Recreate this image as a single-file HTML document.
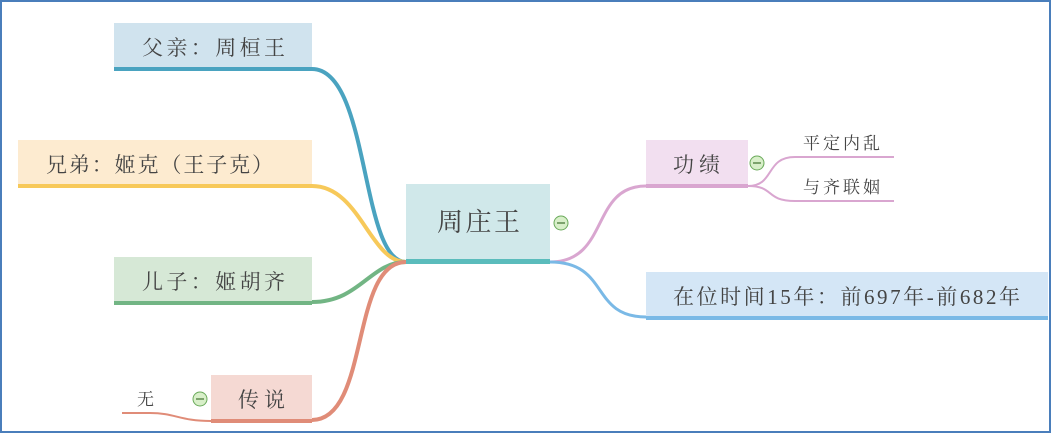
<!DOCTYPE html>
<html><head><meta charset="utf-8"><style>
html,body{margin:0;padding:0;background:#fff}
svg{display:block}
text{font-family:"Liberation Serif","Noto Serif CJK SC",serif;fill:#444}
</style></head><body>
<svg width="1051" height="433" viewBox="0 0 1051 433" xmlns="http://www.w3.org/2000/svg">
<rect x="1" y="1" width="1049" height="431" fill="#fff" stroke="#4a7ebb" stroke-width="2"/>
<g fill="none" stroke-width="4">
<path d="M312,69 C370,69 360,262 406,262" stroke="#4aa3c0"/>
<path d="M312,186 C360,186 370,262 406,262" stroke="#f7c95a"/>
<path d="M312,302 C360,302 370,262 406,262" stroke="#72b584"/>
<path d="M312,420 C370,420 350,262 406,262" stroke="#e08c78"/>
<path d="M550,262 C610,262 590,186 646,186" stroke="#d9a6d0" stroke-width="3"/>
<path d="M550,262 C610,262 590,317 646,317" stroke="#7ab9e6" stroke-width="3"/>
</g>
<g fill="none" stroke-width="2">
<path d="M748,186 C775,186 765,157 795,157 L894,157" stroke="#d9a6d0"/>
<path d="M748,186 C775,186 765,201 795,201 L894,201" stroke="#d9a6d0"/>
<path d="M211,421 C180,421 175,413 150,413 L122,413" stroke="#e08c78"/>
</g>
<rect x="114" y="23" width="198" height="48" fill="#d0e3ee"/><rect x="114" y="67" width="198" height="4" fill="#4aa3c0"/>
<text x="142" y="55" font-size="21" textLength="143" lengthAdjust="spacing">父亲：周桓王</text>
<rect x="18" y="140" width="294" height="48" fill="#fdebd0"/><rect x="18" y="184" width="294" height="4" fill="#f7c95a"/>
<text x="46" y="172" font-size="21" textLength="227" lengthAdjust="spacing">兄弟：姬克（王子克）</text>
<rect x="114" y="257" width="198" height="48" fill="#d6e8d6"/><rect x="114" y="301" width="198" height="4" fill="#72b584"/>
<text x="142" y="289" font-size="21" textLength="143" lengthAdjust="spacing">儿子：姬胡齐</text>
<rect x="211" y="375" width="101" height="48" fill="#f5d9d3"/><rect x="211" y="419" width="101" height="4" fill="#e08c78"/>
<text x="238" y="407" font-size="21" textLength="47" lengthAdjust="spacing">传说</text>
<rect x="406" y="184" width="144" height="80" fill="#d0e8ea"/><rect x="406" y="259" width="144" height="5" fill="#5bbcbc"/>
<text x="437" y="231" font-size="26" textLength="83" lengthAdjust="spacing">周庄王</text>
<rect x="646" y="140" width="102" height="48" fill="#f2dff0"/><rect x="646" y="184" width="102" height="4" fill="#d9a6d0"/>
<text x="673" y="172" font-size="21" textLength="47" lengthAdjust="spacing">功绩</text>
<rect x="646" y="272" width="402" height="48" fill="#d4e6f6"/><rect x="646" y="316" width="402" height="4" fill="#7ab9e6"/>
<text x="673" y="304" font-size="21" textLength="347" lengthAdjust="spacing">在位时间15年：前697年-前682年</text>
<text x="803" y="149" font-size="17" textLength="77" lengthAdjust="spacing">平定内乱</text>
<text x="803" y="193" font-size="17" textLength="77" lengthAdjust="spacing">与齐联姻</text>
<text x="137" y="405" font-size="17">无</text>
<g fill="#d8efc9" stroke="#6aaa5a" stroke-width="1">
<circle cx="561" cy="223" r="7"/><circle cx="757" cy="163" r="7"/><circle cx="200" cy="399" r="7"/>
</g>
<g stroke="#4a7a3a" stroke-width="1.3">
<line x1="557" y1="223" x2="565" y2="223"/><line x1="753" y1="163" x2="761" y2="163"/><line x1="196" y1="399" x2="204" y2="399"/>
</g>
</svg>
</body></html>
